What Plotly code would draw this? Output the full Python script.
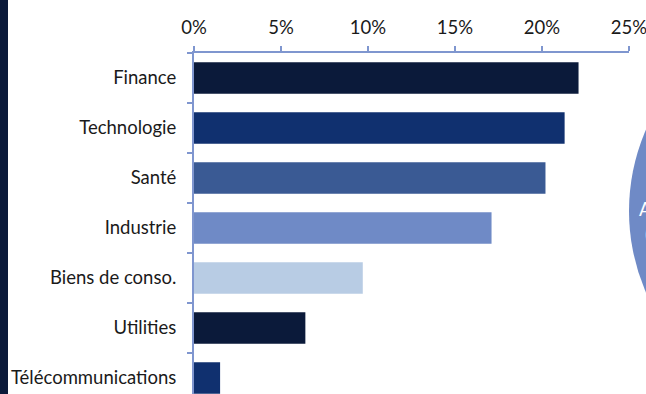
import plotly.graph_objects as go

categories = ["Finance", "Technologie", "Santé", "Industrie", "Biens de conso.", "Utilities", "Télécommunications"]
values = [22.1, 21.3, 20.2, 17.1, 9.7, 6.4, 1.5]
colors = ["#0B1A3A", "#10306F", "#3A5A94", "#6F8AC6", "#B8CCE4", "#0B1A3A", "#10306F"]
tick_vals = [0, 5, 10, 15, 20, 25]
tick_text = ["0%", "5%", "10%", "15%", "20%", "25%"]

W, H = 646, 394
L, R, T, B = 194, 17, 53, 0
pw, ph = W - L - R, H - T - B

def px(x):
    return (x - L) / pw

def py(y):
    return (H - y) / ph

FS = 18.5

fig = go.Figure(go.Bar(
    x=values, y=categories, orientation="h",
    marker=dict(color=colors, line=dict(width=0)),
    width=0.63,
))

fig.update_layout(
    width=W, height=H,
    margin=dict(l=L, r=R, t=T, b=B, pad=0),
    paper_bgcolor="white", plot_bgcolor="white",
    showlegend=False,
    font=dict(family="Lato", size=FS, color="#1a1a1a"),
    xaxis=dict(
        side="top", range=[0, 25], tickvals=tick_vals, ticktext=tick_text,
        showgrid=False, zeroline=False,
        showline=True, linecolor="#7F96CF", linewidth=2,
        ticks="outside", ticklen=5, tickwidth=2, tickcolor="#7F96CF",
        tickfont=dict(family="Lato", size=FS, color="#1a1a1a"),
        ticklabelstandoff=5,
        ticklabeloverflow="allow",
        fixedrange=True,
    ),
    yaxis=dict(
        categoryorder="array", categoryarray=categories,
        range=[6.32, -0.5], autorange=False,
        showgrid=False, zeroline=False,
        showline=True, linecolor="#7F96CF", linewidth=2,
        ticks="outside", ticklen=5, tickwidth=2, tickcolor="#7F96CF",
        tickson="boundaries",
        tickfont=dict(family="Lato", size=FS, color="#1a1a1a"),
        ticklabelstandoff=12,
        ticklabeloverflow="allow",
        fixedrange=True,
    ),
    shapes=[
        dict(type="rect", xref="paper", yref="paper",
             x0=px(0), x1=px(8), y0=py(H + 5), y1=py(-5),
             fillcolor="#0B1A3A", line=dict(width=0), layer="above"),
        dict(type="circle", xref="paper", yref="paper",
             x0=px(629), x1=px(1037), y0=py(415), y1=py(7),
             fillcolor="#6F8AC6", line=dict(width=0), layer="above"),
    ],
    annotations=[
        dict(xref="paper", yref="paper", x=px(637), y=py(209), text="Actions",
             showarrow=False, xanchor="left", yanchor="middle",
             font=dict(family="Lato", size=FS, color="white")),
        dict(xref="paper", yref="paper", x=px(643), y=py(234), text="(en %)",
             showarrow=False, xanchor="left", yanchor="middle",
             font=dict(family="Lato", size=FS, color="white")),
    ],
)

fig.write_html("out.html", config={"displayModeBar": False})
